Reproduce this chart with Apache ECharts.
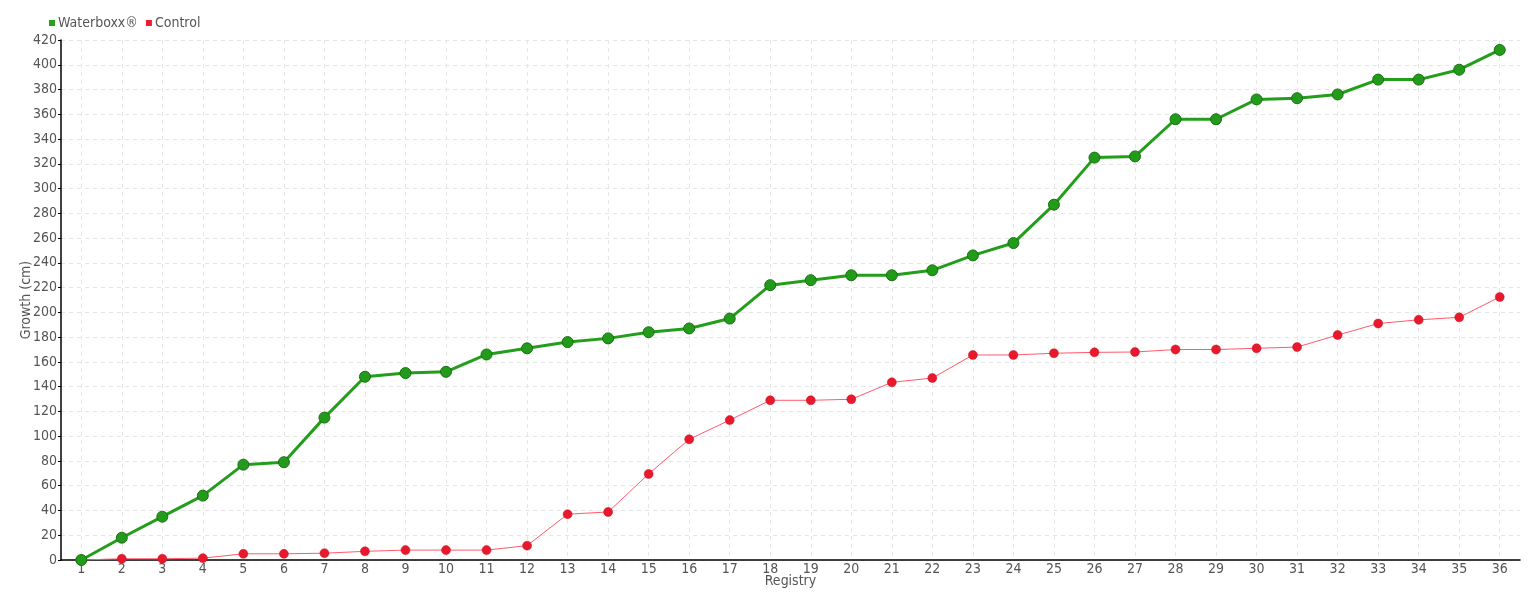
<!DOCTYPE html>
<html>
<head>
<meta charset="utf-8">
<script src="https://cdn.jsdelivr.net/npm/echarts@6/dist/echarts.min.js"></script>
<style>
  html, body { margin: 0; padding: 0; background: #fff; }
  #chart { width: 1540px; height: 600px; }
</style>
</head>
<body>
<div id="chart"></div>
<script>
const registry = Array.from({ length: 36 }, (_, i) => String(i + 1))
const waterboxx = [0, 18, 35, 52, 77, 79, 115, 148, 151, 152, 166, 171, 176, 179, 184, 187, 195, 222,
  226, 230, 230, 234, 246, 256, 287, 325, 326, 356, 356, 372, 373, 376, 388, 388, 396, 412]
const control = [0, 1, 1, 1.5, 5, 5, 5.5, 7, 8, 8, 8, 11.6, 37, 38.8, 69.5, 97.5, 113, 129,
  129, 129.8, 143.5, 147, 165.6, 165.6, 167, 167.7, 168, 170, 170, 171, 172, 181.7, 191, 194, 196, 212.4]

const font = '"DejaVu Sans Condensed", "Liberation Sans Narrow", sans-serif'
const chart = echarts.init(document.getElementById('chart'))

chart.setOption({
  animation: false,
  textStyle: { fontFamily: font },
  legend: {
    left: 44,
    top: 11,
    itemWidth: 6,
    itemHeight: 6,
    itemGap: 8,
    icon: 'rect',
    textStyle: { color: '#555', fontSize: 14, fontFamily: font, padding: [0, 0, 0, -2] },
    data: [
      { name: 'Waterboxx®', itemStyle: { color: '#22a31a', borderWidth: 0 } },
      { name: 'Control', itemStyle: { color: '#ee1c36', borderWidth: 0 } }
    ]
  },
  grid: { left: 61, right: 20, top: 40, bottom: 40 },
  xAxis: {
    type: 'category',
    data: registry,
    boundaryGap: true,
    name: 'Registry',
    nameLocation: 'middle',
    nameGap: 14,
    nameMoveOverlap: false,
    nameTextStyle: { color: '#555', fontSize: 14 },
    axisLine: { lineStyle: { color: '#000', width: 1.5 } },
    axisTick: { alignWithLabel: true, length: 4, lineStyle: { color: '#000' } },
    axisLabel: { color: '#555', fontSize: 14, margin: 2 },
    splitLine: { show: true, alignWithLabel: true, lineStyle: { color: '#e6e6e6', type: [4, 4] } }
  },
  yAxis: {
    type: 'value',
    min: 0,
    max: 420,
    interval: 20,
    name: 'Growth (cm)',
    nameLocation: 'middle',
    nameGap: 28,
    nameMoveOverlap: false,
    nameTextStyle: { color: '#555', fontSize: 14 },
    axisLine: { show: true, lineStyle: { color: '#000', width: 1.5 } },
    axisTick: { show: true, inside: false, length: 3, lineStyle: { color: '#000' } },
    axisLabel: { color: '#555', fontSize: 14, margin: 4 },
    splitLine: { show: true, lineStyle: { color: '#e6e6e6', type: [4, 4] } }
  },
  series: [
    {
      name: 'Waterboxx®',
      type: 'line',
      data: waterboxx,
      symbol: 'circle',
      symbolSize: 11,
      lineStyle: { color: '#229e1a', width: 3 },
      itemStyle: { color: '#229a1a', borderColor: '#1a6e14', borderWidth: 1 },
      z: 3
    },
    {
      name: 'Control',
      type: 'line',
      data: control,
      symbol: 'circle',
      symbolSize: 9,
      lineStyle: { color: '#ff5a6a', width: 1 },
      itemStyle: { color: '#e8192c', borderColor: '#c81224', borderWidth: 0.5 },
      z: 2
    }
  ]
})
</script>
</body>
</html>
